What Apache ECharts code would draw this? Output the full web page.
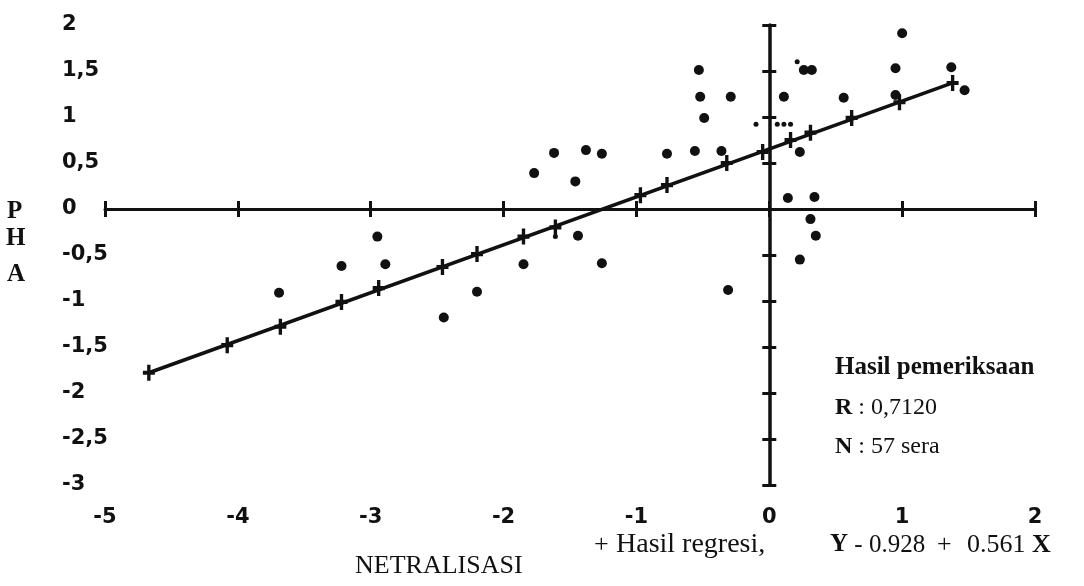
<!DOCTYPE html>
<html>
<head>
<meta charset="utf-8">
<title>PHA - Netralisasi</title>
<script src="https://cdn.jsdelivr.net/npm/echarts@6.0.0/dist/echarts.min.js"></script>
<style>
  html, body { margin: 0; padding: 0; background: #fff; }
  #chart { width: 1084px; height: 586px; }
</style>
</head>
<body>
<div id="chart"></div>
<script>
// tick labels
var xTickLabels = ['-5', '-4', '-3', '-2', '-1', '0', '1', '2'];
var yTickLabels = ['-3', '-2,5', '-2', '-1,5', '-1', '-0,5', '0', '0,5', '1', '1,5', '2'];

// hasil pemeriksaan (titik besar)
var dotX = [-2.95, -3.22, -2.89, -3.69, -2.20, -2.45, -1.85, -1.44, -1.26, -1.46, -1.77, -1.62,
  -1.38, -1.26, -0.77, -0.56, -0.36, -0.53, -0.52, -0.29, -0.49, 0.26, 0.32, 0.11, 0.56, 0.23,
  0.95, 1.00, 1.37, 1.47, 0.95, 0.14, 0.34, 0.31, 0.35, 0.23, -0.31];
var dotY = [-0.30, -0.62, -0.60, -0.91, -0.90, -1.18, -0.60, -0.29, -0.59, 0.30, 0.39, 0.61,
  0.64, 0.60, 0.60, 0.63, 0.63, 1.51, 1.22, 1.22, 0.99, 1.51, 1.51, 1.22, 1.21, 0.62,
  1.53, 1.91, 1.54, 1.29, 1.24, 0.12, 0.13, -0.11, -0.29, -0.55, -0.88];

// titik kecil
var smallX = [-1.61, 0.21, -0.10, 0.06, 0.11, 0.16];
var smallY = [-0.30, 1.60, 0.92, 0.92, 0.92, 0.92];

// hasil regresi (+)
var regX = [-4.67, -4.08, -3.68, -3.22, -2.94, -2.46, -2.20, -1.85, -1.61, -0.97, -0.77,
  -0.32, -0.05, 0.16, 0.31, 0.62, 0.98, 1.38];
var regY = [-1.78, -1.48, -1.28, -1.01, -0.86, -0.63, -0.49, -0.30, -0.20, 0.15, 0.26,
  0.50, 0.62, 0.75, 0.83, 0.99, 1.16, 1.37];

// garis regresi
var fitX = [-4.67, 1.38];
var fitY = [-1.78, 1.37];

var ink = '#111';
var sans = '"DejaVu Sans", sans-serif';
var serif = '"Liberation Serif", serif';

function pairs(xs, ys) {
  return xs.map(function (x, i) { return [x, ys[i]]; });
}

function label(x, y, text, font, extra) {
  var style = { text: text, font: font, fill: ink, verticalAlign: 'middle' };
  if (extra) Object.assign(style, extra);
  return { type: 'text', x: x, y: y, style: style };
}

var chart = echarts.init(document.getElementById('chart'));

var xBase = { type: 'value', min: -5, max: 2, interval: 1, splitLine: { show: false } };
var yBase = { type: 'value', min: -3, max: 2, interval: 0.5, splitLine: { show: false } };
var tickStyle = { color: ink, width: 3 };

var option = {
  animation: false,
  backgroundColor: '#fff',
  grid: { left: 105, right: 49, top: 25, bottom: 101, containLabel: false, outerBoundsMode: 'none' },
  xAxis: [
    Object.assign({}, xBase, {
      position: 'bottom',
      axisLine: { show: false, onZero: false },
      axisTick: { show: false },
      axisLabel: {
        margin: 22, fontFamily: sans, fontSize: 21, fontWeight: 'bold', color: ink,
        formatter: function (v, i) { return xTickLabels[i]; }
      }
    }),
    Object.assign({}, xBase, {
      position: 'bottom',
      axisLine: { show: true, onZero: true, onZeroAxisIndex: 0, lineStyle: { color: ink, width: 3 } },
      axisTick: { show: true, inside: false, length: 8, lineStyle: tickStyle },
      axisLabel: { show: false }
    }),
    Object.assign({}, xBase, {
      position: 'bottom',
      axisLine: { show: false, onZero: true, onZeroAxisIndex: 0 },
      axisTick: { show: true, inside: true, length: 8, lineStyle: tickStyle },
      axisLabel: { show: false }
    })
  ],
  yAxis: [
    Object.assign({}, yBase, {
      position: 'left',
      axisLine: { show: false, onZero: false },
      axisTick: { show: false },
      axisLabel: {
        margin: 43, align: 'left', fontFamily: sans, fontSize: 21, fontWeight: 'bold', color: ink,
        formatter: function (v, i) { return yTickLabels[i]; }
      }
    }),
    Object.assign({}, yBase, {
      position: 'left',
      axisLine: { show: true, onZero: true, onZeroAxisIndex: 0, lineStyle: { color: ink, width: 3.5 } },
      axisTick: { show: true, inside: false, length: 7, lineStyle: tickStyle },
      axisLabel: { show: false }
    }),
    Object.assign({}, yBase, {
      position: 'left',
      axisLine: { show: false, onZero: true, onZeroAxisIndex: 0 },
      axisTick: { show: true, inside: true, length: 7, lineStyle: tickStyle },
      axisLabel: { show: false }
    })
  ],
  series: [
    {
      type: 'line',
      data: pairs(fitX, fitY),
      showSymbol: false,
      lineStyle: { color: ink, width: 3.5 },
      z: 3
    },
    {
      type: 'scatter',
      data: pairs(regX, regY),
      symbol: 'path://M3.6,0H6.4V3.7H10V6.3H6.4V10H3.6V6.3H0V3.7H3.6Z',
      symbolSize: [12, 16],
      itemStyle: { color: ink, opacity: 1 },
      z: 4
    },
    {
      type: 'scatter',
      data: pairs(dotX, dotY),
      symbol: 'circle',
      symbolSize: 10,
      itemStyle: { color: ink, opacity: 1 },
      z: 5
    },
    {
      type: 'scatter',
      data: pairs(smallX, smallY),
      symbol: 'circle',
      symbolSize: 5,
      itemStyle: { color: ink, opacity: 1 },
      z: 5
    }
  ],
  graphic: [
    label(7, 212, 'P', 'bold 25px ' + serif),
    label(6, 239, 'H', 'bold 25px ' + serif),
    label(7, 275, 'A', 'bold 25px ' + serif),
    label(835, 368, 'Hasil pemeriksaan', 'bold 25px ' + serif),
    label(835, 408, '{b|R} : 0,7120', '24px ' + serif, {
      rich: { b: { fontFamily: serif, fontSize: 24, fontWeight: 'bold', color: ink } }
    }),
    label(835, 447, '{b|N} : 57 sera', '24px ' + serif, {
      rich: { b: { fontFamily: serif, fontSize: 24, fontWeight: 'bold', color: ink } }
    }),
    label(594, 545, '+', '26px ' + serif),
    label(616, 545, 'Hasil regresi,', '28px ' + serif),
    label(830, 545, '{b|Y} - 0.928', '25px ' + serif, {
      rich: { b: { fontFamily: serif, fontSize: 25, fontWeight: 'bold', color: ink } }
    }),
    label(937, 545, '+', '26px ' + serif),
    label(967, 545, '0.561 {b|X}', '26px ' + serif, {
      rich: { b: { fontFamily: serif, fontSize: 26, fontWeight: 'bold', color: ink } }
    }),
    label(355, 566, 'NETRALISASI', '26px ' + serif)
  ]
};

chart.setOption(option);
</script>
</body>
</html>
